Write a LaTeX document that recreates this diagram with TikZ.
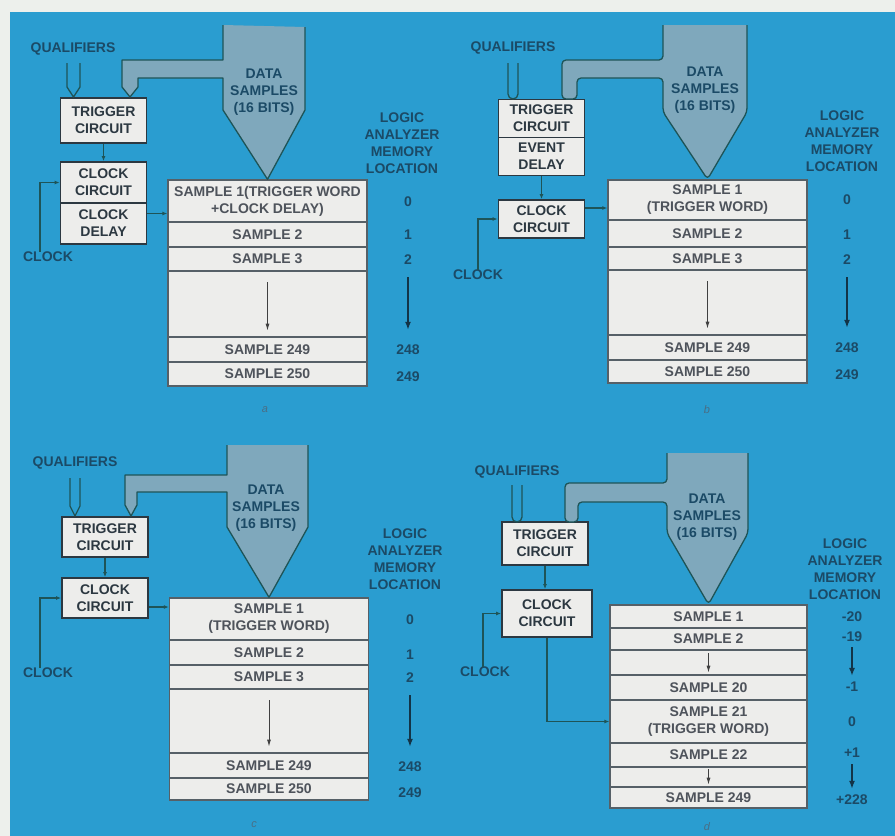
\documentclass[tikz,border=0pt]{standalone}
\usepackage{fontspec}
\setmainfont{Liberation Sans}
\usetikzlibrary{arrows.meta}
\definecolor{bluebg}{HTML}{2A9DD0}
\definecolor{paper}{HTML}{EDF0EC}
\definecolor{ink}{HTML}{1B4A66}
\definecolor{boxline}{HTML}{2C3841}
\definecolor{boxfill}{HTML}{EDEDEB}
\definecolor{cellink}{HTML}{4E535B}
\definecolor{funnel}{HTML}{7FA8BC}
\definecolor{wire}{HTML}{1E5457}
\begin{document}
\begin{tikzpicture}[x=1pt,y=-1pt,font=\bfseries\fontsize{14}{17}\selectfont,
  blk/.style={draw=boxline,line width=1.8pt,fill=boxfill,text=boxline,align=center,minimum width=86pt,minimum height=40pt,inner sep=0pt},
  cell/.style={draw=boxline!80,line width=1.4pt,fill=boxfill,text=cellink,align=center,minimum width=199pt,inner sep=0pt},
  lbl/.style={text=ink,align=center,inner sep=0pt},
  panelcap/.style={text=ink!80,inner sep=0pt,font=\itshape\fontsize{11}{13}\selectfont},
  pipe/.style={fill=funnel,draw=wire,line width=1.3pt,line join=round},
  qual/.style={draw=wire,line width=1.3pt,line join=round},
  wirec/.style={draw=wire,line width=1.3pt,-{Latex[length=5pt,width=4pt]}},
  memarrow/.style={draw=black!75,line width=1pt,-{Latex[length=7pt,width=4pt]}},
  locarrow/.style={draw=ink!70!black,line width=2.2pt,-{Latex[length=8pt,width=6pt]}}]
\fill[paper] (0,0) rectangle (895,836);
\fill[bluebg] (10,12) rectangle (895,836);

% a
\node[blk,minimum height=45pt] (ta) at (103.5,120.5) {TRIGGER\\CIRCUIT};
\node[blk,minimum height=41pt] (cca) at (103.5,182.5) {CLOCK\\CIRCUIT};
\node[blk,minimum height=41pt] (cda) at (103.5,223.5) {CLOCK\\DELAY};
\node[cell,minimum height=42pt] (ma1) at (267.5,201) {SAMPLE 1(TRIGGER WORD\\+CLOCK DELAY)};
\node[cell,minimum height=25pt] (ma2) at (267.5,234.5) {SAMPLE 2};
\node[cell,minimum height=24pt] (ma3) at (267.5,259) {SAMPLE 3};
\node[cell,minimum height=66pt] (ma4) at (267.5,304) {};
\node[cell,minimum height=25pt] (ma5) at (267.5,349.5) {SAMPLE 249};
\node[cell,minimum height=24pt] (ma6) at (267.5,374) {SAMPLE 250};
\draw[qual] (67,63) -- (67,87) -- (73.5,97) -- (80,87) -- (80,63);
\filldraw[pipe] (223,25) -- (223,60) -- (122,60) -- (122,87) -- (130,97) -- (138,87) -- (138,78) -- (223,78) -- (223,110) -- (ma1.north) -- (305,110) -- (305,27);
\node[lbl] (qa) at (73,49) {QUALIFIERS};
\node[lbl] (dsa) at (264,92) {DATA\\SAMPLES\\(16 BITS)};
\node[lbl] (clka) at (48,257) {CLOCK};
\node[lbl] (lla) at (402,143) {LOGIC\\ANALYZER\\MEMORY\\LOCATION};
\node[lbl] (la0) at (408,202) {0};
\node[lbl] (la1) at (408,235) {1};
\node[lbl] (la2) at (408,260) {2};
\node[lbl] (la248) at (408,350) {248};
\node[lbl] (la249) at (408,377) {249};
\node[panelcap] (capa) at (265,410) {a};
\draw[wirec] (ta) -- (cca);
\draw[wirec] ([xshift=-8pt]clka.north) |- (cca.west);
\draw[wirec] ([yshift=10pt]cda.east) -- ([yshift=10pt]cda.east -| ma1.west);
\draw[memarrow,shorten <=12pt,shorten >=7pt] (ma4.north) -- (ma4.south);
\draw[locarrow,shorten <=12pt,shorten >=15pt] (la2.south) -- (la248.north);

% b
\node[blk,minimum height=38pt] (tb) at (541.5,118.5) {TRIGGER\\CIRCUIT};
\node[blk,minimum height=38pt] (edb) at (541.5,156.5) {EVENT\\DELAY};
\node[blk,minimum height=38pt] (ccb) at (541.5,219) {CLOCK\\CIRCUIT};
\node[cell,minimum height=40pt] (mb1) at (707.5,200) {SAMPLE 1\\(TRIGGER WORD)};
\node[cell,minimum height=27pt] (mb2) at (707.5,233.5) {SAMPLE 2};
\node[cell,minimum height=23pt] (mb3) at (707.5,258.5) {SAMPLE 3};
\node[cell,minimum height=65pt] (mb4) at (707.5,302.5) {};
\node[cell,minimum height=25pt] (mb5) at (707.5,347.5) {SAMPLE 249};
\node[cell,minimum height=23pt] (mb6) at (707.5,371.5) {SAMPLE 250};
\draw[qual,rounded corners=5pt] (508,63) -- (508,99) -- (518,99) -- (518,63);
\filldraw[pipe,rounded corners=4pt] (663,25) -- (663,60) -- (562,60) -- (562,99) -- (577,99) -- (577,78) -- (663,78) -- (663,112) -- (mb1.north) -- (747,112) -- (747,25);
\node[lbl] (qb) at (513,48) {QUALIFIERS};
\node[lbl] (dsb) at (705,90) {DATA\\SAMPLES\\(16 BITS)};
\node[lbl] (clkb) at (478,275) {CLOCK};
\node[lbl] (llb) at (842,141) {LOGIC\\ANALYZER\\MEMORY\\LOCATION};
\node[lbl] (lb0) at (847,200) {0};
\node[lbl] (lb1) at (847,235) {1};
\node[lbl] (lb2) at (847,260) {2};
\node[lbl] (lb248) at (847,348) {248};
\node[lbl] (lb249) at (847,375) {249};
\node[panelcap] (capb) at (707,410) {b};
\draw[wirec] (edb) -- (ccb);
\draw[wirec] (clkb.north) |- (ccb.west);
\draw[wirec] ([yshift=11pt]ccb.east) -- ([yshift=11pt]ccb.east -| mb1.west);
\draw[memarrow,shorten <=12pt,shorten >=7pt] (mb4.north) -- (mb4.south);
\draw[locarrow,shorten <=12pt,shorten >=15pt] (lb2.south) -- (lb248.north);

% c
\node[blk,minimum height=40pt] (tc) at (105,537) {TRIGGER\\CIRCUIT};
\node[blk,minimum height=40pt] (ccc) at (105,598) {CLOCK\\CIRCUIT};
\node[cell,minimum height=42pt] (mc1) at (269,619) {SAMPLE 1\\(TRIGGER WORD)};
\node[cell,minimum height=25pt] (mc2) at (269,652.5) {SAMPLE 2};
\node[cell,minimum height=24pt] (mc3) at (269,677) {SAMPLE 3};
\node[cell,minimum height=64pt] (mc4) at (269,721) {};
\node[cell,minimum height=25pt] (mc5) at (269,765.5) {SAMPLE 249};
\node[cell,minimum height=22pt] (mc6) at (269,789) {SAMPLE 250};
\draw[qual] (70,478) -- (70,506) -- (75,516) -- (80,506) -- (80,478);
\filldraw[pipe] (227,445) -- (227,475) -- (125,475) -- (125,505) -- (131,516) -- (137,505) -- (137,492) -- (227,492) -- (227,527) -- (mc1.north) -- (308,527) -- (308,445);
\node[lbl] (qc) at (75,463) {QUALIFIERS};
\node[lbl] (dsc) at (266,508) {DATA\\SAMPLES\\(16 BITS)};
\node[lbl] (clkc) at (48,673) {CLOCK};
\node[lbl] (llc) at (405,559) {LOGIC\\ANALYZER\\MEMORY\\LOCATION};
\node[lbl] (lc0) at (410,620) {0};
\node[lbl] (lc1) at (410,655) {1};
\node[lbl] (lc2) at (410,678) {2};
\node[lbl] (lc248) at (410,767) {248};
\node[lbl] (lc249) at (410,793) {249};
\node[panelcap] (capc) at (254,825) {c};
\draw[wirec] (tc) -- (ccc);
\draw[wirec] ([xshift=-8pt]clkc.north) |- (ccc.west);
\draw[wirec] ([yshift=-9pt]ccc.east) -- ([yshift=-9pt]ccc.east -| mc1.west);
\draw[memarrow,shorten <=12pt,shorten >=7pt] (mc4.north) -- (mc4.south);
\draw[locarrow,shorten <=12pt,shorten >=15pt] (lc2.south) -- (lc248.north);

% d
\node[blk,minimum height=43pt] (td) at (545,543.5) {TRIGGER\\CIRCUIT};
\node[blk,minimum height=47pt,minimum width=90pt] (ccd) at (547,613.5) {CLOCK\\CIRCUIT};
\node[cell,minimum width=197pt,minimum height=23pt] (md1) at (708.5,616.5) {SAMPLE 1};
\node[cell,minimum width=197pt,minimum height=22pt] (md2) at (708.5,639) {SAMPLE 2};
\node[cell,minimum width=197pt,minimum height=25pt] (md3) at (708.5,662.5) {};
\node[cell,minimum width=197pt,minimum height=25pt] (md4) at (708.5,687.5) {SAMPLE 20};
\node[cell,minimum width=197pt,minimum height=43pt] (md5) at (708.5,721.5) {SAMPLE 21\\(TRIGGER WORD)};
\node[cell,minimum width=197pt,minimum height=24pt] (md6) at (708.5,755) {SAMPLE 22};
\node[cell,minimum width=197pt,minimum height=20pt] (md7) at (708.5,777) {};
\node[cell,minimum width=197pt,minimum height=21pt] (md8) at (708.5,797.5) {SAMPLE 249};
\draw[qual,rounded corners=5pt] (512,485) -- (512,522) -- (522,522) -- (522,485);
\filldraw[pipe,rounded corners=4pt] (667,453) -- (667,483) -- (565,483) -- (565,522) -- (578,522) -- (578,502) -- (667,502) -- (667,533) -- (md1.north) -- (748,533) -- (748,453);
\node[lbl] (qd) at (517,472) {QUALIFIERS};
\node[lbl] (dsd) at (707,517) {DATA\\SAMPLES\\(16 BITS)};
\node[lbl] (clkd) at (485,672) {CLOCK};
\node[lbl] (lld) at (845,569) {LOGIC\\ANALYZER\\MEMORY\\LOCATION};
\node[lbl] (ld20) at (852,617) {-20};
\node[lbl] (ld19) at (852,637) {-19};
\node[lbl] (ld1) at (852,687) {-1};
\node[lbl] (ld0) at (852,722) {0};
\node[lbl] (ldp1) at (852,753) {+1};
\node[lbl] (ldp228) at (852,800) {+228};
\node[panelcap] (capd) at (707,827) {d};
\draw[wirec] (td.south) -- (td.south |- ccd.north);
\draw[wirec] ([xshift=-2pt]clkd.north) |- (ccd.west);
\draw[wirec] (ccd.south) |- (md5.west);
\draw[memarrow,shorten <=4pt,shorten >=3pt] (md3.north) -- (md3.south);
\draw[memarrow,shorten <=3pt,shorten >=3pt] (md7.north) -- (md7.south);
\draw[locarrow,line width=1.6pt,shorten <=5pt,shorten >=6pt] (ld19.south) -- (ld1.north);
\draw[locarrow,line width=1.6pt,shorten <=6pt,shorten >=6pt] (ldp1.south) -- (ldp228.north);
\end{tikzpicture}
\end{document}
